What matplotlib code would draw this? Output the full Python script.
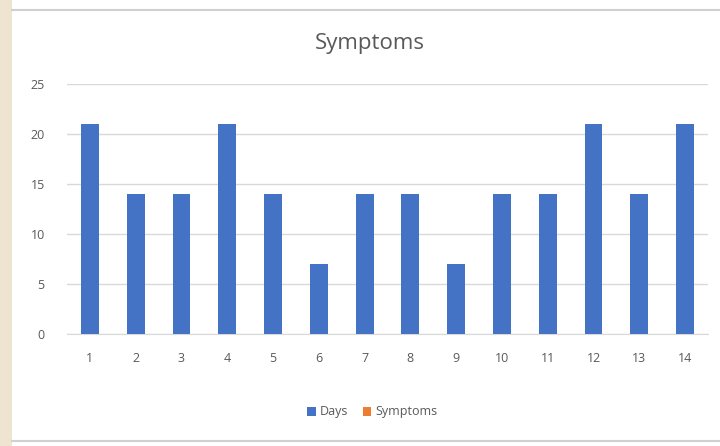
import matplotlib
matplotlib.use("Agg")
import matplotlib.pyplot as plt
from matplotlib.patches import Rectangle, Patch
from matplotlib.lines import Line2D

categories = ["1", "2", "3", "4", "5", "6", "7", "8", "9", "10", "11", "12", "13", "14"]
days = [21, 14, 14, 21, 14, 7, 14, 14, 7, 14, 14, 21, 14, 21]
series_names = ["Days", "Symptoms"]
series_colors = ["#4472c4", "#ed7d31"]
yticks = [0, 5, 10, 15, 20, 25]

plt.rcParams['font.family'] = ['Open Sans', 'DejaVu Sans']
W, H = 720, 446
fig = plt.figure(figsize=(W / 100, H / 100), dpi=100, facecolor="white")

# left background strip
fig.patches.append(Rectangle((0, 0), 12 / W, 1, transform=fig.transFigure,
                             facecolor="#efe4cf", edgecolor="none", zorder=0))
# chart frame lines
fig.add_artist(Line2D([12 / W, 1], [1 - 10 / H, 1 - 10 / H], transform=fig.transFigure,
                      color="#d0d0d0", lw=1.5))
fig.add_artist(Line2D([12 / W, 1], [1 - 441 / H, 1 - 441 / H], transform=fig.transFigure,
                      color="#d0d0d0", lw=1.5))

ax = fig.add_axes([67 / W, 1 - 334 / H, (708 - 67) / W, 250 / H])
x = list(range(len(categories)))
ax.bar(x, days, width=0.39, color=series_colors[0], zorder=3)

ax.set_xlim(-0.5, len(categories) - 0.5)
ax.set_ylim(0, 25)
ax.set_yticks(yticks)
ax.set_xticks(x)
ax.set_xticklabels(categories)
ax.grid(axis="y", color="#d9d9d9", lw=1, zorder=0)
for s in ["top", "right", "left"]:
    ax.spines[s].set_visible(False)
ax.spines["bottom"].set_color("#d9d9d9")
ax.tick_params(axis="both", length=0, colors="#595959", labelsize=9)
ax.tick_params(axis="y", pad=16)
ax.tick_params(axis="x", pad=13)

fig.text(370 / W, 1 - 44 / H, "Symptoms", ha="center", va="center",
         fontsize=16, color="#595959")

handles = [Patch(facecolor=c, edgecolor="none", label=n)
           for n, c in zip(series_names, series_colors)]
leg = fig.legend(handles=handles, loc="center", bbox_to_anchor=(372 / W, 1 - 412 / H), ncol=2,
                 frameon=False, fontsize=9, handlelength=0.7, handleheight=0.7,
                 handletextpad=0.3, columnspacing=1.2)
for t in leg.get_texts():
    t.set_color("#595959")

fig.savefig("out.png", dpi=100, facecolor="white")
